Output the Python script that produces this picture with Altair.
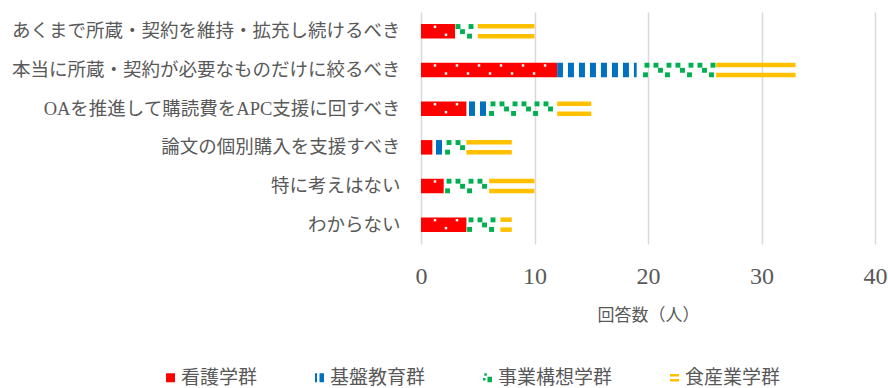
import altair as alt
import pandas as pd

categories = [
    "あくまで所蔵・契約を維持・拡充し続けるべき",
    "本当に所蔵・契約が必要なものだけに絞るべき",
    "OAを推進して購読費をAPC支援に回すべき",
    "論文の個別購入を支援すべき",
    "特に考えはない",
    "わからない",
]
groups = ["看護学群", "基盤教育群", "事業構想学群", "食産業学群"]
nursing = [3, 12, 4, 1, 2, 4]
kiban = [0, 7, 2, 1, 0, 0]
jigyo = [2, 7, 6, 2, 4, 3]
shoku = [5, 7, 3, 4, 4, 1]
x_ticks = [0, 10, 20, 30, 40]
colors = ["#FF0000", "#0070C0", "#00B050", "#FFC000"]
legend_shapes = [
    "M-1,-1H1V1H-1Z",
    "M-1,-1H-0.55V1H-1Z M0,-1H1V1H0Z",
    "M-0.7,-1H-0.15V-0.45H-0.7Z M-1,0.05H-0.45V0.6H-1Z M0,-0.25H1V1H0Z",
    "M-1,-0.85H1V-0.3H-1Z M-1,0.3H1V0.85H-1Z",
]

rows = []
for i, c in enumerate(categories):
    s = 0
    for g, vals in zip(groups, [nursing, kiban, jigyo, shoku]):
        v = vals[i]
        rows.append({"category": c, "group": g, "value": v, "start": s, "end": s + v})
        s += v
df = pd.DataFrame(rows)

FONT = "'Liberation Serif', 'Noto Sans CJK JP'"
TXT = "#595959"
BAR = 14.5

xscale = alt.Scale(domain=[0, 40], nice=False, zero=True)
xaxis = alt.Axis(
    values=x_ticks, grid=True, gridColor="#d9d9d9", gridWidth=1.5, domain=False,
    ticks=False, tickSize=0, labelFont=FONT, labelFontSize=24, labelColor=TXT,
    labelPadding=20, labelFlush=False, format="d", title="回答数（人）",
    titleFont=FONT, titleFontSize=17, titleFontWeight="normal", titleColor=TXT,
    titlePadding=19,
)
yaxis = alt.Axis(
    title=None, domain=False, ticks=False, tickSize=0, labelFont=FONT,
    labelFontSize=18.5, labelColor=TXT, labelPadding=21, labelLimit=1000, grid=False,
)


def X(field):
    return alt.X(f"{field}:Q", scale=xscale, axis=xaxis, title="回答数（人）")


def Y():
    return alt.Y("category:N", sort=categories,
                 scale=alt.Scale(domain=categories, paddingInner=0, paddingOuter=0),
                 axis=yaxis)


legend = alt.Legend(
    title=None, orient="none", direction="horizontal", columns=4,
    legendX=-260, legendY=356, labelFont=FONT, labelFontSize=19, labelColor=TXT,
    symbolSize=81, symbolStrokeWidth=0, labelOffset=1, columnPadding=52,
    labelLimit=500, symbolOpacity=1,
)

base = alt.Chart(df)

legend_layer = base.mark_point(filled=True, opacity=0, size=81).encode(
    x=X("start"), y=Y(),
    color=alt.Color("group:N", scale=alt.Scale(domain=groups, range=colors), legend=legend),
    shape=alt.Shape("group:N", scale=alt.Scale(domain=groups, range=legend_shapes), legend=legend),
)


def seg(g):
    return base.transform_filter(alt.datum.group == g).transform_filter(alt.datum.value > 0)


# 看護学群: solid red with small white dots
red = seg(groups[0]).mark_bar(size=BAR, color=colors[0]).encode(x=X("start"), x2="end", y=Y())


def dots(phase, yoff):
    return (seg(groups[0])
            .transform_calculate(p=f"sequence({phase}, datum.end - 0.15, 1.94)")
            .transform_flatten(["p"])
            .mark_square(size=6, color="white", opacity=1, yOffset=yoff)
            .encode(x=X("p"), y=Y()))


# 基盤教育群: vertical stripes
blue = (seg(groups[1])
        .transform_calculate(p="sequence(0.35, 40, 0.969)")
        .transform_flatten(["p"])
        .transform_calculate(a="max(datum.p, datum.start)", b="min(datum.p + 0.53, datum.end)")
        .transform_filter("datum.b - datum.a > 0.02")
        .mark_bar(size=BAR, color=colors[1])
        .encode(x=X("a"), x2="b", y=Y()))


# 事業構想学群: confetti squares
def confetti(phase, yoff):
    return (seg(groups[2])
            .transform_calculate(p=f"sequence({phase}, 40, 1.938)")
            .transform_flatten(["p"])
            .transform_filter("datum.p > datum.start + 0.18 && datum.p < datum.end - 0.18")
            .mark_square(size=24, color=colors[2], opacity=1, yOffset=yoff)
            .encode(x=X("p"), y=Y()))


# 食産業学群: horizontal stripes
def band(yoff):
    return (seg(groups[3])
            .mark_bar(size=4.5, color=colors[3], yOffset=yoff)
            .encode(x=X("start"), x2="end", y=Y()))


chart = alt.layer(
    legend_layer, red, dots(1.23, -4.5), dots(2.2, 3.5), blue,
    confetti(0.53, -4.8), confetti(1.32, -4.8), confetti(1.72, 0.3), confetti(0.40, 4.8),
    band(-5), band(5),
).properties(
    width=454, height=232,
    padding={"left": 421, "top": 12, "right": 13, "bottom": 144},
    autosize=alt.AutoSizeParams(type="none"),
).configure_view(stroke=None)

chart.save("out.html", embed_options={"renderer": "svg", "actions": False})
